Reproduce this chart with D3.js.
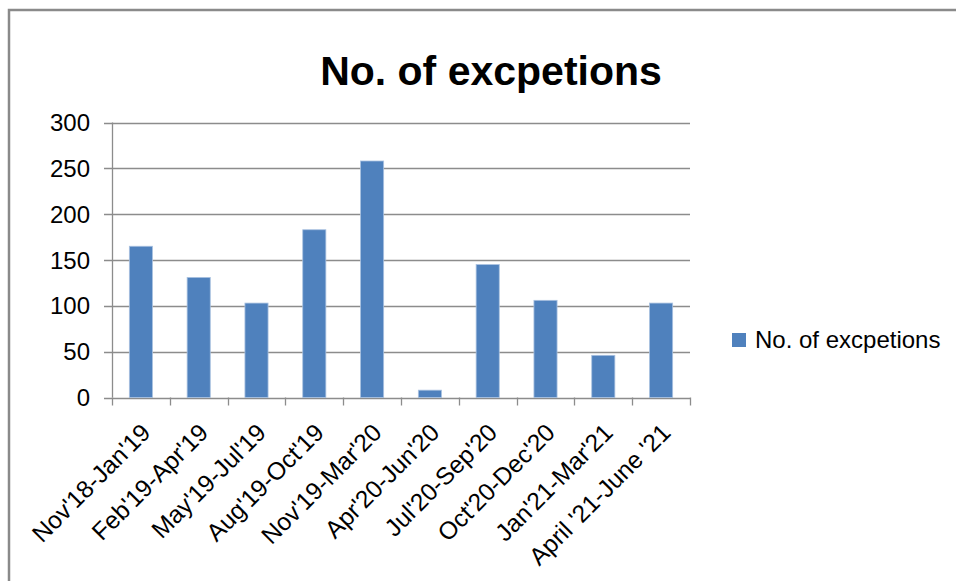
<!DOCTYPE html>
<html>
<head>
<meta charset="utf-8">
<script src="https://cdn.jsdelivr.net/npm/d3@7"></script>
<style>
  html, body { margin: 0; padding: 0; background: #fff; }
  svg { display: block; }
  text { font-family: "Liberation Sans", Arial, sans-serif; fill: #000; }
</style>
</head>
<body>
<svg id="chart" width="956" height="581"></svg>
<script>
const title = "No. of excpetions";
const seriesName = "No. of excpetions";
const categories = [
  "Nov'18-Jan'19", "Feb'19-Apr'19", "May'19-Jul'19", "Aug'19-Oct'19",
  "Nov'19-Mar'20", "Apr'20-Jun'20", "Jul'20-Sep'20", "Oct'20-Dec'20",
  "Jan'21-Mar'21", "April '21-June '21"
];
const values = [165, 131, 103, 183, 258, 8, 145, 106, 46, 103];
const yTicks = [0, 50, 100, 150, 200, 250, 300];

const svg = d3.select("#chart");
const W = 956, H = 581;
const plot = { left: 112, right: 690, top: 122.5, bottom: 397.5 };
const barColor = "#4F81BD";
const gridColor = "#8c8c8c";

// outer chart border
svg.append("path")
  .attr("d", `M9,${H + 5} L9,10 L${W + 5},10`)
  .attr("fill", "none")
  .attr("stroke", "#8a8a8a")
  .attr("stroke-width", 2.5);

const x = d3.scaleBand()
  .domain(categories)
  .range([plot.left, plot.right])
  .paddingInner(0.6)
  .paddingOuter(0.3);
const step = x.step();

const y = d3.scaleLinear().domain([0, 300]).range([plot.bottom, plot.top]);

// gridlines + y ticks
const yAxis = svg.append("g");
yAxis.selectAll("line.grid")
  .data(yTicks)
  .join("line")
  .attr("x1", plot.left - 8)
  .attr("x2", plot.right)
  .attr("y1", d => Math.round(y(d)) + 0.5)
  .attr("y2", d => Math.round(y(d)) + 0.5)
  .attr("stroke", gridColor)
  .attr("stroke-width", 1.3);
yAxis.selectAll("text")
  .data(yTicks)
  .join("text")
  .attr("x", plot.left - 22)
  .attr("y", d => y(d))
  .attr("dy", "0.36em")
  .attr("text-anchor", "end")
  .attr("font-size", 24)
  .text(d => d);

// y axis line
svg.append("line")
  .attr("x1", plot.left + 0.5).attr("x2", plot.left + 0.5)
  .attr("y1", plot.top).attr("y2", plot.bottom)
  .attr("stroke", gridColor).attr("stroke-width", 1.3);

// bars
svg.append("g").selectAll("rect")
  .data(values)
  .join("rect")
  .attr("x", (d, i) => x(categories[i]))
  .attr("width", x.bandwidth())
  .attr("y", d => y(d))
  .attr("height", d => y(0) - y(d))
  .attr("fill", barColor)
  .attr("stroke", "#a9c1e0")
  .attr("stroke-width", 0.8);

// x axis ticks at category boundaries
const bounds = d3.range(categories.length + 1).map(i => plot.left + i * step);
svg.append("g").selectAll("line")
  .data(bounds)
  .join("line")
  .attr("x1", d => Math.round(d) + 0.5)
  .attr("x2", d => Math.round(d) + 0.5)
  .attr("y1", plot.bottom)
  .attr("y2", plot.bottom + 8)
  .attr("stroke", gridColor)
  .attr("stroke-width", 1.3);

// x category labels rotated -45°
svg.append("g").selectAll("text")
  .data(categories)
  .join("text")
  .attr("transform", d => `translate(${x(d) + x.bandwidth() / 2 + 11},434) rotate(-45)`)
  .attr("text-anchor", "end")
  .attr("font-size", 24.5)
  .text(d => d);

// title
svg.append("text")
  .attr("x", 491)
  .attr("y", 85)
  .attr("text-anchor", "middle")
  .attr("font-size", 41)
  .attr("font-weight", "bold")
  .text(title);

// legend
const lg = svg.append("g");
lg.append("rect")
  .attr("x", 732).attr("y", 333)
  .attr("width", 14).attr("height", 14)
  .attr("fill", barColor);
lg.append("text")
  .attr("x", 755).attr("y", 348)
  .attr("font-size", 24)
  .text(seriesName);
</script>
</body>
</html>
